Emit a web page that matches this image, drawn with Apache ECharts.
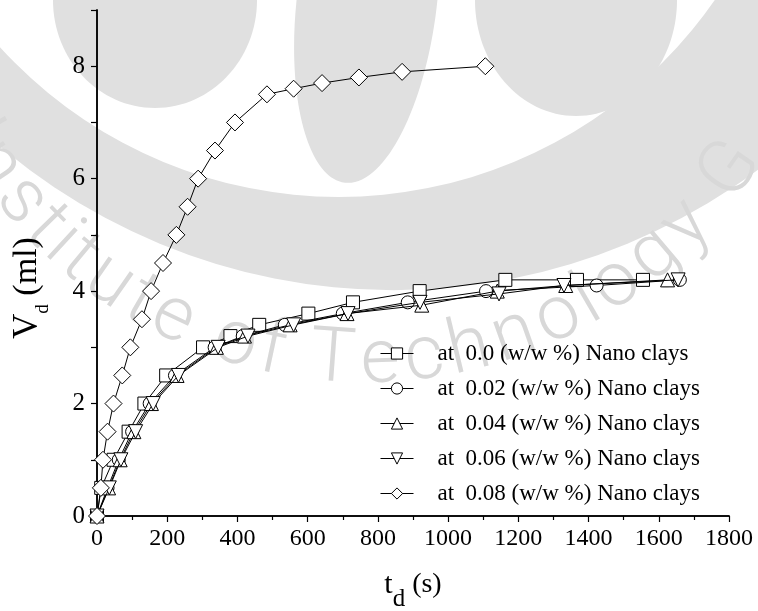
<!DOCTYPE html>
<html>
<head>
<meta charset="utf-8">
<script src="https://cdn.jsdelivr.net/npm/echarts@6/dist/echarts.min.js"></script>
<style>
  html, body { margin: 0; padding: 0; background: #fff; }
  #chart { width: 758px; height: 611px; }
</style>
</head>
<body>
<div id="chart"></div>
<script>
// Drainage volume V_d (ml) against drainage time t_d (s) for nano-clay loadings
const seriesNames = [
  'at  0.0 (w/w %) Nano clays',
  'at  0.02 (w/w %) Nano clays',
  'at  0.04 (w/w %) Nano clays',
  'at  0.06 (w/w %) Nano clays',
  'at  0.08 (w/w %) Nano clays'
];

const t00 = [0, 12, 47, 90, 135, 197, 302, 380, 462, 602, 729, 919, 1163, 1367, 1555];
const v00 = [0, 0.5, 1.0, 1.5, 2.0, 2.5, 3.0, 3.2, 3.4, 3.6, 3.8, 4.0, 4.2, 4.2, 4.2];

const t02 = [0, 30, 62, 100, 150, 222, 335, 415, 535, 700, 885, 1108, 1423, 1660];
const v02 = [0, 0.5, 1.0, 1.5, 2.0, 2.5, 3.0, 3.2, 3.4, 3.6, 3.8, 4.0, 4.1, 4.2];

const t04 = [0, 33, 66, 105, 155, 228, 340, 420, 550, 712, 925, 1140, 1335, 1625];
const v04 = [0, 0.5, 1.0, 1.5, 2.0, 2.5, 3.0, 3.2, 3.4, 3.6, 3.75, 4.0, 4.1, 4.2];

const t06 = [0, 35, 68, 110, 160, 232, 345, 430, 560, 715, 920, 1145, 1330, 1655];
const v06 = [0, 0.5, 1.0, 1.5, 2.0, 2.5, 3.0, 3.2, 3.4, 3.6, 3.8, 3.95, 4.1, 4.2];

const t08 = [0, 11, 17, 30, 47, 72, 95, 128, 154, 188, 226, 258, 288, 336, 393, 484, 560, 641, 746, 869, 1106];
const v08 = [0, 0.5, 1.0, 1.5, 2.0, 2.5, 3.0, 3.5, 4.0, 4.5, 5.0, 5.5, 6.0, 6.5, 7.0, 7.5, 7.6, 7.7, 7.8, 7.9, 8.0];

const xTicks = { min: 0, max: 1800, step: 200 };
const yTicks = { min: 0, max: 9, step: 1, labelEvery: 2 };

const serif = '"Liberation Serif", "Times New Roman", serif';

function pairs(xs, ys) { return xs.map((x, i) => [x, ys[i]]); }

const markers = [
  { symbol: 'rect', size: 13, rotate: 0 },
  { symbol: 'circle', size: 13, rotate: 0 },
  { symbol: 'triangle', size: 14, rotate: 0 },
  { symbol: 'triangle', size: 14, rotate: 180 },
  { symbol: 'diamond', size: 17, rotate: 0 }
];
const dataSets = [pairs(t00, v00), pairs(t02, v02), pairs(t04, v04), pairs(t06, v06), pairs(t08, v08)];

const series = dataSets.map((d, i) => ({
  name: seriesNames[i],
  type: 'line',
  data: d,
  symbol: markers[i].symbol,
  symbolSize: markers[i].size,
  symbolRotate: markers[i].rotate,
  showAllSymbol: true,
  lineStyle: { color: '#000', width: 1 },
  itemStyle: { color: '#fff', borderColor: '#000', borderWidth: 1 },
  z: 3 + i,
  animation: false
}));

// Faint circular emblem behind the plot
const wmFill = '#e0e0e0';
const wmText = '#d8d8d8';

function emblem() {
  return [
    { id: 'ringOuter', type: 'circle', z: -20, shape: { cx: 393.6, cy: -320.8, r: 611 }, style: { fill: wmFill } },
    { id: 'ringInner', type: 'circle', z: -19, shape: { cx: 338.6, cy: -260.9, r: 457.8 }, style: { fill: '#fff' } },
    { id: 'lobeA', type: 'ellipse', z: -18, shape: { cx: 155, cy: 0, rx: 102, ry: 108 }, style: { fill: wmFill } },
    { id: 'lobeC', type: 'ellipse', z: -18, x: 367, y: 0, rotation: -0.12,
      shape: { cx: 0, cy: 0, rx: 70, ry: 184 }, style: { fill: wmFill } },
    { id: 'lobeB', type: 'ellipse', z: -18, shape: { cx: 576, cy: 0, rx: 101, ry: 116 }, style: { fill: wmFill } }
  ];
}

function arcText() {
  const label = 'Institute of Technology G';
  const fontSize = 76;
  const font = '300 ' + fontSize + 'px Roboto, "Open Sans", sans-serif';
  const ctx = document.createElement('canvas').getContext('2d');
  ctx.font = font;
  const cx = 365, cy = -84, r = 447;
  const chars = Array.from(label);
  const widths = chars.map(ch => ctx.measureText(ch).width);
  const mids = [];
  let acc = 0;
  widths.forEach(w => { mids.push(acc + w / 2); acc += w; });
  // spread the letters so that the first "s" and the final "G" sit at fixed angles
  const iS = 2, iG = chars.length - 1;
  const a0 = 140.3, a1 = 34.8;
  const degPerPx = (a0 - a1) / (mids[iG] - mids[iS]);
  const els = [];
  chars.forEach((ch, k) => {
    if (ch === ' ') return;
    const deg = a0 - (mids[k] - mids[iS]) * degPerPx;
    const th = deg * Math.PI / 180;
    els.push({
      id: 'wm' + k, type: 'text', z: -17,
      x: cx + r * Math.cos(th), y: cy + r * Math.sin(th),
      rotation: Math.PI / 2 - th,
      style: { text: ch, font: font, fill: wmText, align: 'center', verticalAlign: 'middle', x: 0, y: 0 }
    });
  });
  return els;
}

const axisLineStyle = { color: '#000', width: 1.5 };

const option = {
  backgroundColor: '#fff',
  animation: false,
  graphic: { elements: emblem().concat(arcText()) },
  grid: { left: 97, right: 29, top: 10, bottom: 95, containLabel: false, outerBoundsMode: 'none' },
  legend: {
    orient: 'vertical',
    left: 375,
    top: 337,
    itemWidth: 33,
    itemHeight: 14,
    itemGap: 12,
    data: seriesNames,
    lineStyle: { width: 1 },
    itemStyle: { borderWidth: 1 },
    textStyle: { fontFamily: serif, fontSize: 23, color: '#000', padding: [0, 0, 0, 19] },
    backgroundColor: 'transparent'
  },
  xAxis: [
    {
      type: 'value', position: 'bottom', min: xTicks.min, max: xTicks.max, interval: xTicks.step,
      name: '{i|t}{s|d}{u| (s)}', nameLocation: 'middle', nameGap: 54,
      nameTextStyle: { rich: {
        i: { fontFamily: serif, fontSize: 30, color: '#000' },
        s: { fontFamily: serif, fontSize: 25, color: '#000', verticalAlign: 'bottom', padding: [0, 0, -12, 0] },
        u: { fontFamily: serif, fontSize: 28, color: '#000' }
      } },
      axisLine: { show: true, lineStyle: axisLineStyle },
      axisTick: { show: true, inside: false, length: 6, lineStyle: { color: '#000', width: 1.2 } },
      minorTick: { show: true, splitNumber: 2, length: 4, lineStyle: { color: '#000', width: 1.2 } },
      splitLine: { show: false },
      axisLabel: { color: '#000', fontFamily: serif, fontSize: 24, margin: 11, formatter: v => String(v) }
    },
    {
      type: 'value', position: 'top', min: xTicks.min, max: xTicks.max, interval: xTicks.step / 2,
      axisLine: { show: true, lineStyle: axisLineStyle },
      axisTick: { show: true, inside: true, length: 4, lineStyle: { color: '#000', width: 1 } },
      axisLabel: { show: false }, splitLine: { show: false }
    }
  ],
  yAxis: [
    {
      type: 'value', position: 'left', min: yTicks.min, max: yTicks.max, interval: yTicks.step,
      name: '{i|V}{s|d}{u| (ml)}', nameLocation: 'middle', nameGap: 52, nameRotate: 90,
      nameTextStyle: {
        padding: [0, 50, 0, 0],
        rich: {
          i: { fontFamily: serif, fontSize: 35, color: '#000' },
          s: { fontFamily: serif, fontSize: 19, color: '#000', verticalAlign: 'bottom', padding: [0, 0, -8, 0] },
          u: { fontFamily: serif, fontSize: 34, color: '#000' }
        }
      },
      axisLine: { show: true, lineStyle: axisLineStyle },
      axisTick: { show: true, inside: false, length: 6, lineStyle: { color: '#000', width: 1.2 } },
      splitLine: { show: false },
      axisLabel: {
        color: '#000', fontFamily: serif, fontSize: 25, margin: 12,
        formatter: v => (v % yTicks.labelEvery === 0 ? String(v) : '')
      }
    },
    {
      type: 'value', position: 'right', min: yTicks.min, max: yTicks.max, interval: yTicks.step,
      axisLine: { show: true, lineStyle: axisLineStyle },
      axisTick: { show: true, inside: true, length: 4, lineStyle: { color: '#000', width: 1 } },
      axisLabel: { show: false }, splitLine: { show: false }
    }
  ],
  series: series
};

const chart = echarts.init(document.getElementById('chart'), null, { renderer: 'canvas' });
chart.setOption(option);
</script>
</body>
</html>
